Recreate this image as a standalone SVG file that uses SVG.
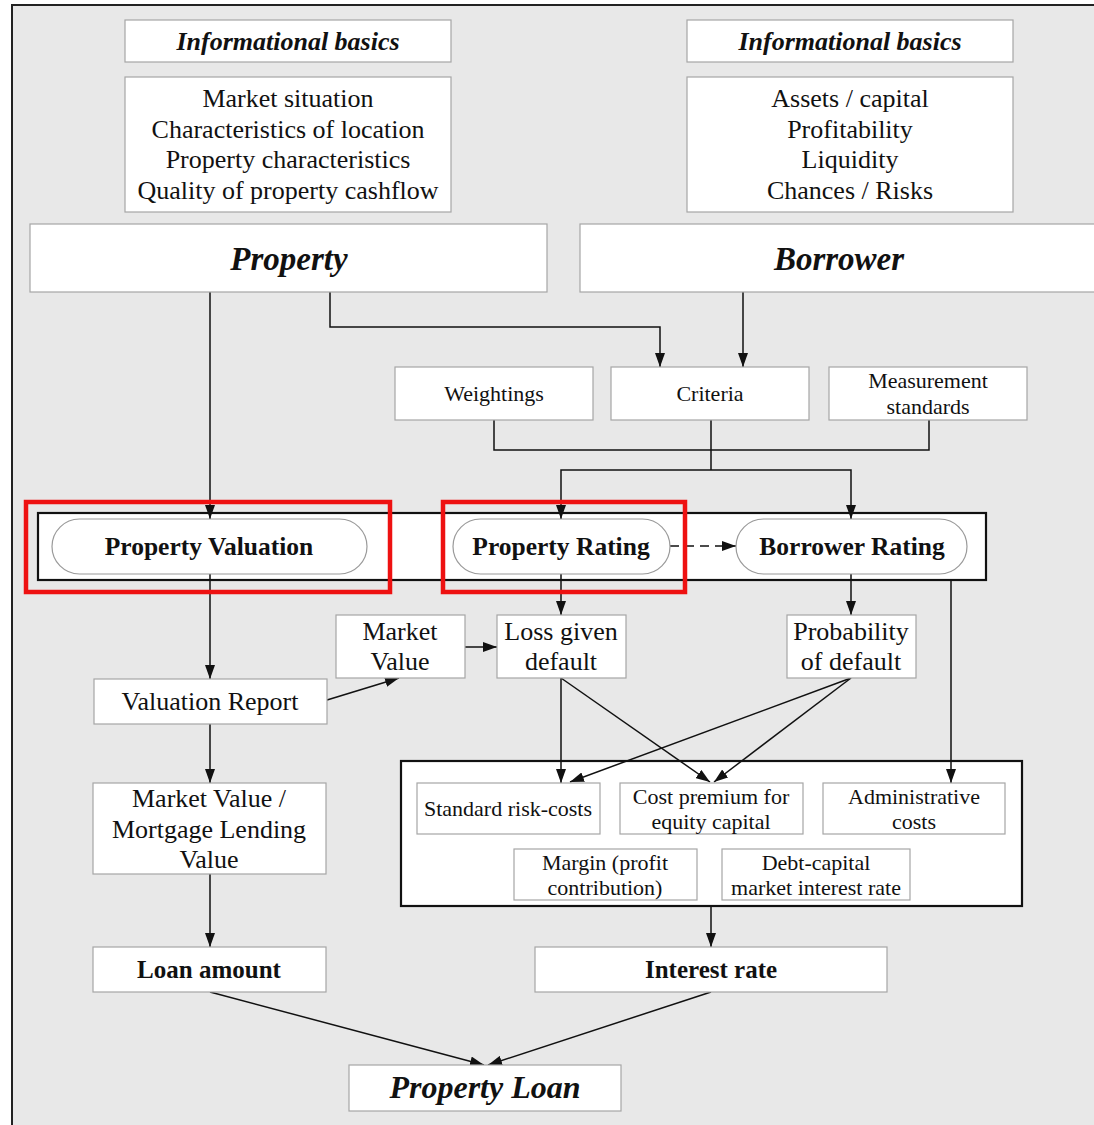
<svg xmlns="http://www.w3.org/2000/svg" width="1094" height="1125" viewBox="0 0 1094 1125">
  <style>
    text { font-family: "Liberation Serif", "Times New Roman", serif; fill: #111; text-anchor: middle; }
    .box { fill: #fff; stroke: #a6a6a6; stroke-width: 1.2; }
    .pill { fill: #fff; stroke: #9a9a9a; stroke-width: 1.2; }
    .frame { fill: #fff; stroke: #111; stroke-width: 2.2; }
    .hl { fill: none; stroke: #ee1111; stroke-width: 4.5; }
    .bi { font-weight: bold; font-style: italic; }
    .b { font-weight: bold; }
    .wire { fill: none; stroke: #111; stroke-width: 1.5; }
    .arr { marker-end: url(#ah); }
    .t26 { font-size: 26px; }
    .t22 { font-size: 22px; }
    .pl { font-size: 25.5px; }
  </style>
  <defs>
    <marker id="ah" viewBox="0 0 14 10" refX="14" refY="5" markerWidth="14" markerHeight="10" markerUnits="userSpaceOnUse" orient="auto">
      <path d="M0,0 L14,5 L0,10 z" fill="#111"/>
    </marker>
  </defs>

  <!-- page background and outer frame -->
  <rect x="0" y="0" width="1094" height="1125" fill="#fff"/>
  <rect x="12" y="5" width="1100" height="1140" fill="#e8e8e8" stroke="#222" stroke-width="2"/>

  <!-- container frames -->
  <rect id="rating-row" class="frame" x="38" y="513" width="948" height="67"/>
  <rect id="cost-frame" class="frame" x="401" y="761" width="621" height="145"/>

  <!-- connectors -->
  <g id="connectors">
    <path class="wire arr" d="M210,292 V519"/>
    <path class="wire arr" d="M330,292 V327 H660 V367"/>
    <path class="wire arr" d="M743,292 V367"/>
    <path class="wire" d="M494,420 V450 H929 V420"/>
    <path class="wire" d="M711,420 V470"/>
    <path class="wire arr" d="M711,470 H561 V519"/>
    <path class="wire arr" d="M711,470 H851 V519"/>
    <path class="wire arr" d="M670,546 H736" stroke-dasharray="9,6"/>
    <path class="wire arr" d="M210,574 V679"/>
    <path class="wire arr" d="M327,700 L399,678"/>
    <path class="wire arr" d="M465,647 H497"/>
    <path class="wire arr" d="M561,574 V615"/>
    <path class="wire arr" d="M851,574 V615"/>
    <path class="wire arr" d="M951,580 V783"/>
    <path class="wire arr" d="M561,678 V783"/>
    <path class="wire arr" d="M561,678 L710,782"/>
    <path class="wire arr" d="M851,678 L570,782"/>
    <path class="wire arr" d="M851,678 L714,782"/>
    <path class="wire arr" d="M711,906 V947"/>
    <path class="wire arr" d="M210,724 V783"/>
    <path class="wire arr" d="M210,874 V947"/>
    <path class="wire arr" d="M210,992 L484,1065"/>
    <path class="wire arr" d="M711,992 L488,1065"/>
  </g>

  <!-- property side inputs -->
  <g id="info-property">
    <rect class="box" x="125" y="20" width="326" height="42"/>
    <text class="bi t26" x="288" y="50">Informational basics</text>
  </g>
  <g id="facts-property">
    <rect class="box" x="125" y="77" width="326" height="135"/>
    <text class="t26" x="288" y="107">Market situation</text>
    <text class="t26" x="288" y="138">Characteristics of location</text>
    <text class="t26" x="288" y="168">Property characteristics</text>
    <text class="t26" x="288" y="199">Quality of property cashflow</text>
  </g>
  <g id="property">
    <rect class="box" x="30" y="224" width="517" height="68"/>
    <text class="bi" x="289" y="270" font-size="33">Property</text>
  </g>

  <!-- borrower side inputs -->
  <g id="info-borrower">
    <rect class="box" x="687" y="20" width="326" height="42"/>
    <text class="bi t26" x="850" y="50">Informational basics</text>
  </g>
  <g id="facts-borrower">
    <rect class="box" x="687" y="77" width="326" height="135"/>
    <text class="t26" x="850" y="107">Assets / capital</text>
    <text class="t26" x="850" y="138">Profitability</text>
    <text class="t26" x="850" y="168">Liquidity</text>
    <text class="t26" x="850" y="199">Chances / Risks</text>
  </g>
  <g id="borrower">
    <rect class="box" x="580" y="224" width="530" height="68"/>
    <text class="bi" x="839" y="270" font-size="33">Borrower</text>
  </g>

  <!-- rating inputs -->
  <g id="weightings">
    <rect class="box" x="395" y="367" width="198" height="53"/>
    <text class="t22" x="494" y="401">Weightings</text>
  </g>
  <g id="criteria">
    <rect class="box" x="611" y="367" width="198" height="53"/>
    <text class="t22" x="710" y="401">Criteria</text>
  </g>
  <g id="measurement">
    <rect class="box" x="829" y="367" width="198" height="53"/>
    <text class="t22" x="928" y="388">Measurement</text>
    <text class="t22" x="928" y="414">standards</text>
  </g>

  <!-- rating row -->
  <g id="property-valuation">
    <rect class="pill" x="52" y="519" width="315" height="55" rx="27.5"/>
    <text class="b pl" x="209" y="555">Property Valuation</text>
  </g>
  <g id="property-rating">
    <rect class="pill" x="453" y="519" width="217" height="55" rx="27.5"/>
    <text class="b pl" x="561" y="555">Property Rating</text>
  </g>
  <g id="borrower-rating">
    <rect class="pill" x="736" y="519" width="231" height="55" rx="27.5"/>
    <text class="b pl" x="852" y="555">Borrower Rating</text>
  </g>

  <!-- intermediate results -->
  <g id="market-value">
    <rect class="box" x="336" y="615" width="129" height="63"/>
    <text class="t26" x="400" y="640">Market</text>
    <text class="t26" x="400" y="670">Value</text>
  </g>
  <g id="loss-given-default">
    <rect class="box" x="497" y="615" width="129" height="63"/>
    <text class="t26" x="561" y="640">Loss given</text>
    <text class="t26" x="561" y="670">default</text>
  </g>
  <g id="probability-of-default">
    <rect class="box" x="787" y="615" width="129" height="63"/>
    <text class="t26" x="851" y="640">Probability</text>
    <text class="t26" x="851" y="670">of default</text>
  </g>
  <g id="valuation-report">
    <rect class="box" x="94" y="679" width="233" height="45"/>
    <text class="t26" x="210" y="710">Valuation Report</text>
  </g>
  <g id="mortgage-lending-value">
    <rect class="box" x="93" y="783" width="233" height="91"/>
    <text class="t26" x="209" y="807">Market Value /</text>
    <text class="t26" x="209" y="838">Mortgage Lending</text>
    <text class="t26" x="209" y="868">Value</text>
  </g>

  <!-- interest rate components -->
  <g id="standard-risk-costs">
    <rect class="box" x="417" y="783" width="183" height="51"/>
    <text class="t22" x="508" y="816">Standard risk-costs</text>
  </g>
  <g id="cost-premium">
    <rect class="box" x="620" y="783" width="183" height="51"/>
    <text class="t22" x="711" y="804">Cost premium for</text>
    <text class="t22" x="711" y="829">equity capital</text>
  </g>
  <g id="administrative-costs">
    <rect class="box" x="823" y="783" width="182" height="51"/>
    <text class="t22" x="914" y="804">Administrative</text>
    <text class="t22" x="914" y="829">costs</text>
  </g>
  <g id="margin">
    <rect class="box" x="514" y="849" width="183" height="51"/>
    <text class="t22" x="605" y="870">Margin (profit</text>
    <text class="t22" x="605" y="895">contribution)</text>
  </g>
  <g id="debt-capital">
    <rect class="box" x="722" y="849" width="188" height="51"/>
    <text class="t22" x="816" y="870">Debt-capital</text>
    <text class="t22" x="816" y="895">market interest rate</text>
  </g>

  <!-- outcomes -->
  <g id="loan-amount">
    <rect class="box" x="93" y="947" width="233" height="45"/>
    <text class="b" x="209" y="978" font-size="25">Loan amount</text>
  </g>
  <g id="interest-rate">
    <rect class="box" x="535" y="947" width="352" height="45"/>
    <text class="b" x="711" y="978" font-size="25">Interest rate</text>
  </g>
  <g id="property-loan">
    <rect class="box" x="349" y="1065" width="272" height="46"/>
    <text class="bi" x="485" y="1098" font-size="32">Property Loan</text>
  </g>

  <!-- highlight outlines -->
  <rect class="hl" x="26" y="502" width="364" height="90"/>
  <rect class="hl" x="443" y="502" width="242" height="90"/>
</svg>
